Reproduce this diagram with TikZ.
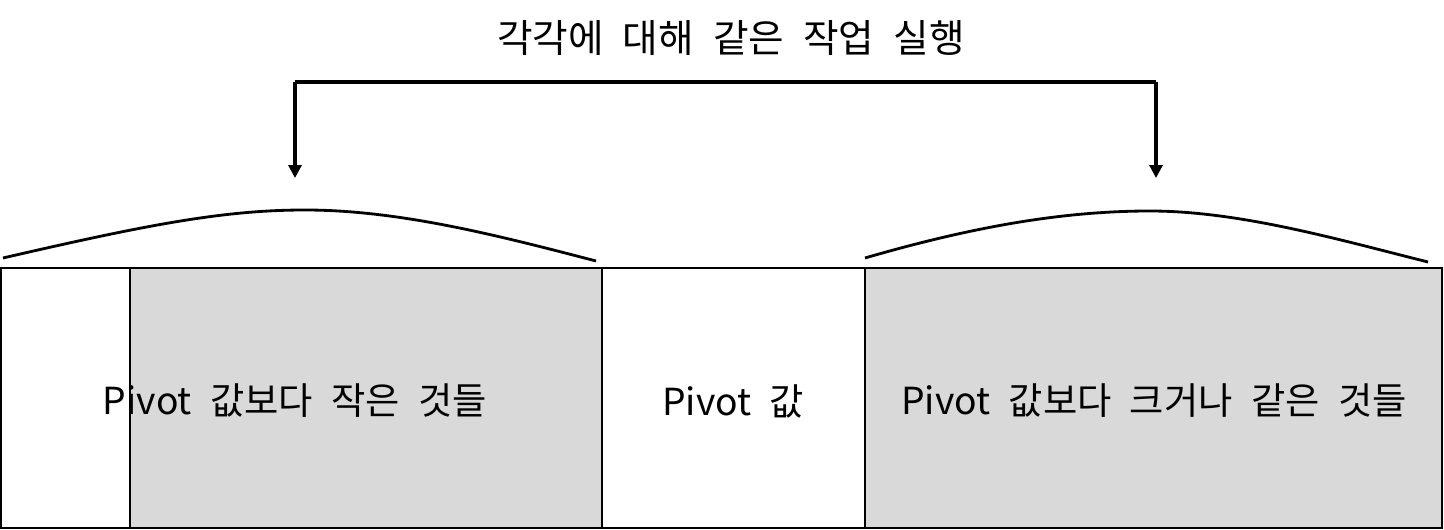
\documentclass[tikz,border=0pt]{standalone}
\usepackage{fontspec}
\setmainfont[WordSpace=2.2]{Noto Sans CJK KR}
\usetikzlibrary{arrows.meta}
\definecolor{partgray}{HTML}{D9D9D9}
\begin{document}
\begin{tikzpicture}[x=0.025cm,y=-0.025cm,
  part/.style={draw=black,line width=1.4pt},
  bell/.style={draw=black,line width=2pt},
  label/.style={font=\fontsize{26.5}{30}\selectfont,inner sep=0pt}]
\useasboundingbox (0,0) rectangle (1444,530);
% array cut in three parts
\filldraw[part,fill=white]    (1,268) rectangle (130,528);
\filldraw[part,fill=partgray] (130,268) rectangle (602,528);
\filldraw[part,fill=white]    (602,268) rectangle (865,528);
\filldraw[part,fill=partgray] (865,268) rectangle (1442,528);
% texts of the parts
\node[label] (small) at (295,401) {Pivot 값보다 작은 것들};
\node[label] (pivot) at (733,401) {Pivot 값};
\node[label] (large) at (1154,401) {Pivot 값보다 크거나 같은 것들};
% bells over the left and right parts
\draw[bell] (3,258) .. controls (150,224) and (225,210) .. (305,210)
                    .. controls (400,210) and (500,236) .. (596,261);
\draw[bell] (865,258) .. controls (975,226) and (1065,211) .. (1150,211)
                      .. controls (1240,211) and (1340,240) .. (1428,262);
% bracket with both arrows
\node[font=\fontsize{27.5}{32}\selectfont,inner sep=0pt] (task) at (731,38) {각각에 대해 같은 작업 실행};
\coordinate (lcorner) at (295,82);
\coordinate (rcorner) at (1156,82);
\coordinate (lbell) at (295,178);
\coordinate (rbell) at (1156,178);
\draw[line width=2.2pt] (lcorner) -- (rcorner);
\draw[line width=2.2pt,-{Triangle[length=3.2mm,width=3.2mm]}] (lcorner) -- (lbell);
\draw[line width=2.2pt,-{Triangle[length=3.2mm,width=3.2mm]}] (rcorner) -- (rbell);
\end{tikzpicture}
\end{document}
